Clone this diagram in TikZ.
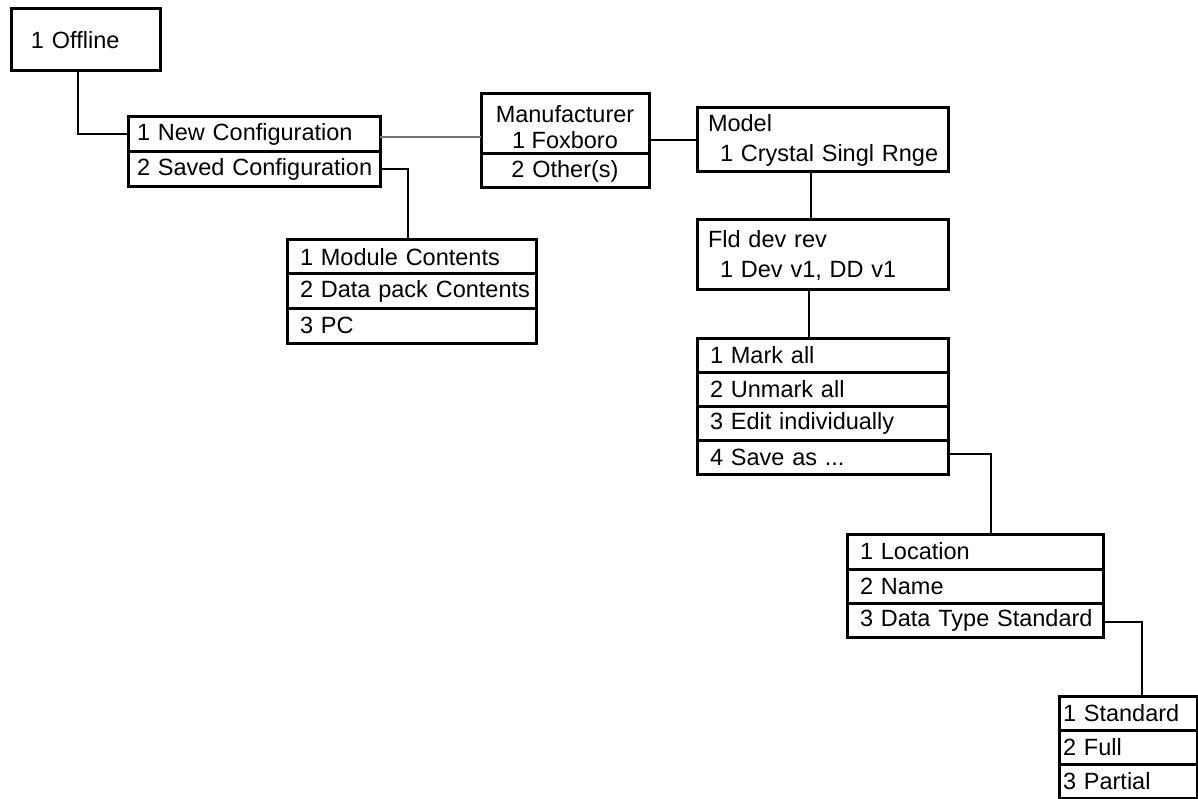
\documentclass[tikz,border=0pt]{standalone}
\usepackage{fontspec}
\setmainfont{Liberation Sans}
\newcommand\diagfont{\fontsize{23.5}{30}\selectfont}
\newcommand\mffont{\fontsize{23.5}{26}\selectfont}
\newcommand\ind[1]{\hspace*{#1pt}}
\begin{document}
\begin{tikzpicture}[x=1pt,y=-1pt,
  row/.style={draw, line width=3pt, anchor=north west, outer sep=0pt,
    inner xsep=0pt, inner ysep=0pt, align=left, font=\diagfont},
  txt/.style={inner sep=0pt, align=center, font=\mffont},
  link/.style={line width=2pt},
  glink/.style={line width=1.6pt, black!55}]
\useasboundingbox (0,0) rectangle (1198,799);

% boxes
\node[row, text width=149pt, minimum height=62pt] (off) at (11,9) {\ind{20}1 Offline};

\node[row, text width=252pt, minimum height=35pt] (nc) at (128,117) {\ind{9}1 New Configuration};
\node[row, text width=252pt, minimum height=35pt] (sc) at (128,152) {\ind{9}2 Saved Configuration};

\node[row, text width=168pt, minimum height=60pt] (mf) at (481,94) {};
\node[txt] (mft) at ([yshift=-3pt]mf.center) {Manufacturer\\1 Foxboro};
\node[row, text width=168pt, minimum height=34pt, align=center] (mf2) at (481,154) {2 Other(s)};

\node[row, text width=251pt, minimum height=64pt] (mod) at (697,108) {\ind{11}Model\\\ind{23}1 Crystal Singl Rnge};
\node[row, text width=251pt, minimum height=70pt] (fd) at (697,220) {\ind{11}Fld dev rev\\\ind{23}1 Dev v1, DD v1};

\node[row, text width=251pt, minimum height=34pt] (mk1) at (697,338) {\ind{13}1 Mark all};
\node[row, text width=251pt, minimum height=34pt] (mk2) at (697,372) {\ind{13}2 Unmark all};
\node[row, text width=251pt, minimum height=34pt] (mk3) at (697,406) {\ind{13}3 Edit individually};
\node[row, text width=251pt, minimum height=34pt] (mk4) at (697,440) {\ind{13}4 Save as ...};

\node[row, text width=249pt, minimum height=34pt] (m1) at (287,240) {\ind{13}1 Module Contents};
\node[row, text width=249pt, minimum height=34pt] (m2) at (287,274) {\ind{13}2 Data pack Contents};
\node[row, text width=249pt, minimum height=35pt] (m3) at (287,308) {\ind{13}3 PC};

\node[row, text width=256pt, minimum height=35pt] (lo1) at (847,534) {\ind{13}1 Location};
\node[row, text width=256pt, minimum height=34pt] (lo2) at (847,569) {\ind{13}2 Name};
\node[row, text width=256pt, minimum height=34pt] (lo3) at (847,603) {\ind{13}3 Data Type Standard};

\node[row, text width=138pt, minimum height=34pt] (st1) at (1059,696) {\ind{4}1 Standard};
\node[row, text width=138pt, minimum height=34pt] (st2) at (1059,730) {\ind{4}2 Full};
\node[row, text width=138pt, minimum height=34pt] (st3) at (1059,764) {\ind{4}3 Partial};

% connectors
\draw[link] ([xshift=67pt]off.south west) |- (nc.west);
\coordinate (g) at ([yshift=-2.5pt]nc.east);
\draw[glink] (g) -- (g -| mf.west);
\draw[link] (mod.west -| mf.east) -- (mod.west);
\coordinate (v1) at ([xshift=-12pt]mod.south);
\draw[link] (v1) -- (v1 |- fd.north);
\coordinate (v2) at ([xshift=-14pt]fd.south);
\draw[link] (v2) -- (v2 |- mk1.north);
\draw[link] (sc.east) -| ([xshift=-3.5pt]m1.north);
\coordinate (h1) at ([yshift=3pt]mk4.east);
\draw[link] (h1) -| ([xshift=16pt]lo1.north);
\coordinate (h2) at ([yshift=-2pt]lo3.east);
\draw[link] (h2) -| ([xshift=14pt]st1.north);
\end{tikzpicture}
\end{document}
